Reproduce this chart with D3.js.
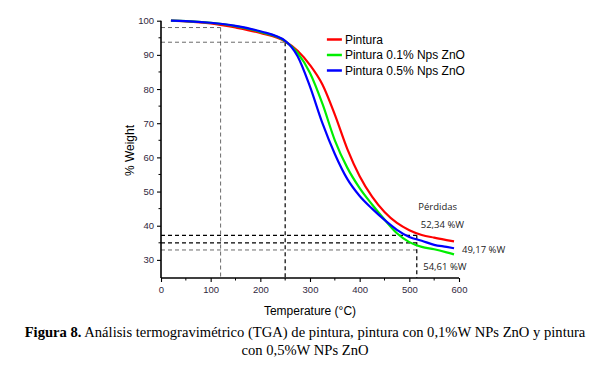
<!DOCTYPE html>
<html>
<head>
<meta charset="utf-8">
<script src="https://cdn.jsdelivr.net/npm/d3@7"></script>
<style>
  body { margin: 0; background: #fff; }
  svg { display: block; }
</style>
</head>
<body>
<div class="chart"></div>
<script>
// temperatures (°C) shared by the three curves
const temps     = [20, 50, 100, 150, 200, 250, 275, 300, 325, 350, 375, 400, 425, 450, 475, 500, 525, 550, 575, 590];
const pintura   = [100, 99.8, 99.2, 98.0, 96.4, 93.9, 91.2, 87.0, 81.3, 72.5, 62.5, 54.5, 48.5, 44.0, 40.8, 38.7, 37.3, 36.5, 35.8, 35.4];
const pintura01 = [100, 99.9, 99.4, 98.4, 96.7, 94.0, 90.6, 84.7, 75.7, 65.0, 57.0, 51.0, 46.2, 41.8, 37.8, 35.2, 33.8, 33.1, 32.2, 31.6];
const pintura05 = [100, 99.9, 99.4, 98.5, 96.9, 94.1, 89.6, 80.7, 70.0, 61.0, 53.7, 48.7, 45.0, 41.7, 38.8, 36.7, 35.6, 34.4, 33.8, 33.4];

const seriesNames = ['Pintura', 'Pintura 0.1% Nps ZnO', 'Pintura 0.5% Nps ZnO'];
const seriesColors = ['#ff0000', '#00ee00', '#0000ff'];

const xTicks = [0, 100, 200, 300, 400, 500, 600];
const yTicks = [30, 40, 50, 60, 70, 80, 90, 100];

// reference (dashed) lines: [temperature, weight]
const guides = [
    {t: 120, w: 98.0, bold: false},
    {t: 250, w: 93.7, bold: true}
];
const lossLevels = [
    {w: 37.2, bold: true},
    {w: 35.0, bold: true},
    {w: 32.9, bold: false}
];
const lossTemp = 515;
const lossLabels = ['Pérdidas', '52,34 %W', '49,17 %W', '54,61 %W'];

const W = 611, H = 367;
const margin = {top: 20.7, left: 161, right: 152, bottom: 89};
const width = W - margin.left - margin.right;
const height = H - margin.top - margin.bottom;

const svg = d3.select('.chart')
    .append('svg')
    .attr('width', W)
    .attr('height', H);

const g = svg.append('g')
    .attr('transform', `translate(${margin.left},${margin.top})`);

const x = d3.scaleLinear().domain([0, 600]).range([0, width]);
const y = d3.scaleLinear().domain([24.7, 100]).range([height, 0]);

// dashed guide lines
function dashed(sel, bold) {
    sel.attr('stroke', bold ? '#000' : '#444')
        .attr('stroke-width', bold ? 1.2 : 0.8)
        .attr('stroke-dasharray', '4,3')
        .attr('fill', 'none');
}

guides.forEach(d => {
    g.append('line')
        .attr('x1', 0).attr('x2', x(d.t))
        .attr('y1', y(d.w)).attr('y2', y(d.w))
        .call(dashed, false);
    g.append('line')
        .attr('x1', x(d.t)).attr('x2', x(d.t))
        .attr('y1', y(d.w)).attr('y2', height)
        .call(dashed, d.bold);
});

lossLevels.forEach(d => {
    g.append('line')
        .attr('x1', 0).attr('x2', x(lossTemp))
        .attr('y1', y(d.w)).attr('y2', y(d.w))
        .call(dashed, d.bold);
});
g.append('line')
    .attr('x1', x(lossTemp)).attr('x2', x(lossTemp))
    .attr('y1', y(lossLevels[0].w)).attr('y2', height)
    .call(dashed, true);

// curves
const line = d3.line()
    .curve(d3.curveMonotoneX)
    .x(d => x(d[0]))
    .y(d => y(d[1]));

[pintura, pintura01, pintura05].forEach((vals, i) => {
    g.append('path')
        .datum(temps.map((t, j) => [t, vals[j]]))
        .attr('fill', 'none')
        .attr('stroke', seriesColors[i])
        .attr('stroke-width', 2.2)
        .attr('d', line);
});

// axes
const xAxis = d3.axisBottom(x).tickValues(xTicks).tickSize(4).tickPadding(4);
const yAxis = d3.axisLeft(y).tickValues(yTicks).tickSize(4).tickPadding(3);

const gx = g.append('g')
    .attr('transform', `translate(0,${height})`)
    .call(xAxis);
const gy = g.append('g').call(yAxis);

// minor ticks
gx.selectAll('.minor')
    .data(d3.range(50, 600, 100))
    .join('line')
    .attr('x1', d => x(d)).attr('x2', d => x(d))
    .attr('y1', 0).attr('y2', 2.5)
    .attr('stroke', '#000');
gy.selectAll('.minor')
    .data(d3.range(35, 100, 10))
    .join('line')
    .attr('y1', d => y(d)).attr('y2', d => y(d))
    .attr('x1', 0).attr('x2', -2.5)
    .attr('stroke', '#000');

[gx, gy].forEach(a => {
    a.select('.domain').attr('stroke-width', 1.6).attr('d',
        a === gx ? `M0,0H${width}` : `M0,${height}V0`);
    a.selectAll('.tick line').attr('stroke-width', 1.1);
    a.selectAll('.tick text')
        .attr('font-family', 'Liberation Sans, Arial, sans-serif')
        .attr('font-size', 9.5)
        .attr('fill', '#2f2840');
});

// axis titles
g.append('text')
    .attr('x', width / 2)
    .attr('y', height + 37)
    .attr('text-anchor', 'middle')
    .attr('font-family', 'Liberation Sans, Arial, sans-serif')
    .attr('font-size', 12)
    .text('Temperature (°C)');

g.append('text')
    .attr('transform', `translate(-27,${y(62)}) rotate(-90)`)
    .attr('text-anchor', 'middle')
    .attr('font-family', 'Liberation Sans, Arial, sans-serif')
    .attr('font-size', 12)
    .text('% Weight');

// legend
const legend = g.append('g').attr('transform', `translate(${x(334)},${y(94.5)})`);
seriesNames.forEach((name, i) => {
    const row = legend.append('g').attr('transform', `translate(0,${i * 15.5})`);
    row.append('line')
        .attr('x1', 0).attr('x2', 15)
        .attr('stroke', seriesColors[i])
        .attr('stroke-width', 2.5);
    row.append('text')
        .attr('x', 18).attr('y', 4.5)
        .attr('font-family', 'Liberation Sans, Arial, sans-serif')
        .attr('font-size', 12)
        .text(name);
});

// loss annotations
const annot = [
    {t: lossTemp + 3, w: 44.5},
    {t: lossTemp + 8, w: 39.3},
    {t: 606, w: 31.9},
    {t: lossTemp + 13, w: 27.1}
];
annot.forEach((a, i) => {
    g.append('text')
        .attr('x', x(a.t))
        .attr('y', y(a.w))
        .attr('font-family', 'Open Sans, Liberation Sans, sans-serif')
        .attr('font-size', 9.5)
        .attr('fill', '#222')
        .text(lossLabels[i]);
});

// caption
const cap = svg.append('text')
    .attr('text-anchor', 'middle')
    .attr('font-family', 'Liberation Serif, Times New Roman, serif')
    .attr('font-size', 14.6)
    .attr('fill', '#000');
const l1 = cap.append('tspan').attr('x', 305).attr('y', 337);
l1.append('tspan').attr('font-weight', 'bold').text('Figura 8.');
l1.append('tspan').text(' Análisis termogravimétrico (TGA) de pintura, pintura con 0,1%W NPs ZnO y pintura');
cap.append('tspan').attr('x', 305).attr('y', 355).text('con 0,5%W NPs ZnO');
</script>
</body>
</html>
